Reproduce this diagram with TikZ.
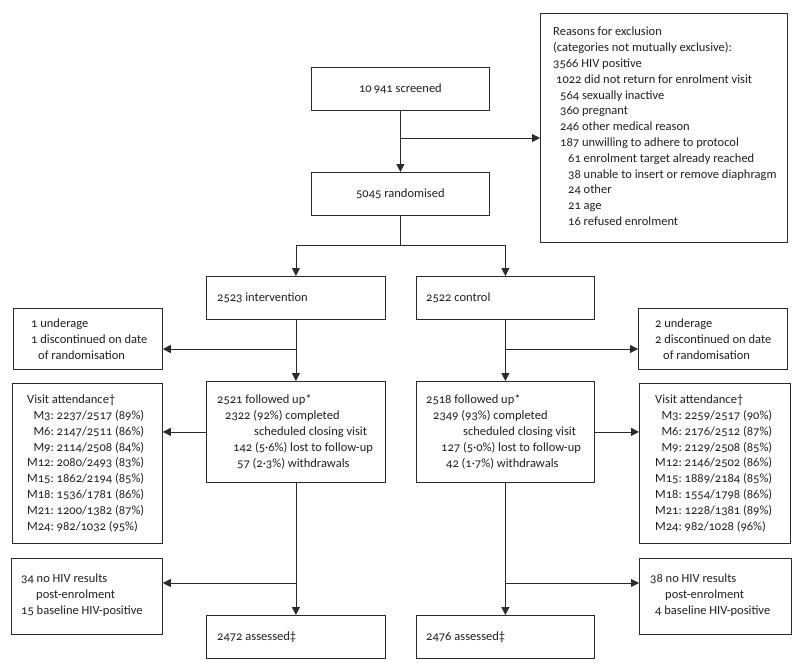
\documentclass[tikz,border=0pt]{standalone}
\usepackage{fontspec}
\usepackage{calc}
\setmainfont{Carlito}[Numbers=OldStyle]
\usetikzlibrary{arrows.meta}
\definecolor{lc}{HTML}{2B2B2B}
\definecolor{tc}{HTML}{1F1F1F}
\newcommand\mlab[1]{\makebox[\widthof{M12:}][r]{#1}\ }
\begin{document}
\begin{tikzpicture}[x=1pt,y=-1pt,
  bx/.style={draw=lc, line width=0.8pt, anchor=north west, inner sep=0pt},
  txt/.style={anchor=west, inner sep=0pt, align=left, text=tc,
    font=\fontsize{12.5}{15.8}\selectfont},
  ctxt/.style={txt, anchor=center, align=center},
  arr/.style={draw=lc, line width=0.8pt, -{Triangle[length=8pt,width=8pt]}},
  ln/.style={draw=lc, line width=0.8pt}]
\useasboundingbox (0,0) rectangle (800,667);
% ---------- boxes ----------
\node[bx, minimum width=178pt, minimum height=43pt] (scr) at (311,67) {};
\node[bx, minimum width=178pt, minimum height=43pt] (rnd) at (311,172) {};
\node[bx, minimum width=247pt, minimum height=229pt] (exc) at (540,13) {};
\node[bx, minimum width=179pt, minimum height=43pt] (int) at (206,276) {};
\node[bx, minimum width=178pt, minimum height=43pt] (ctl) at (416,276) {};
\node[bx, minimum width=149pt, minimum height=61pt] (undL) at (13,308) {};
\node[bx, minimum width=149pt, minimum height=61pt] (undR) at (638,308) {};
\node[bx, minimum width=179pt, minimum height=101pt] (fuL) at (206,381) {};
\node[bx, minimum width=178pt, minimum height=101pt] (fuR) at (416,381) {};
\node[bx, minimum width=150pt, minimum height=160pt] (visL) at (12,383) {};
\node[bx, minimum width=151pt, minimum height=160pt] (visR) at (639,383) {};
\node[bx, minimum width=151pt, minimum height=76pt] (hivL) at (11,558) {};
\node[bx, minimum width=152pt, minimum height=76pt] (hivR) at (639,558) {};
\node[bx, minimum width=179pt, minimum height=43pt] (asL) at (206,615) {};
\node[bx, minimum width=178pt, minimum height=43pt] (asR) at (416,615) {};
% ---------- texts ----------
\node[ctxt] (scrt) at (scr.center) {10\,941 screened};
\node[ctxt] (rndt) at (rnd.center) {5045 randomised};
\node[txt] (exct) at ([xshift=13pt,yshift=1.5pt]exc.west) {Reasons for exclusion\\
(categories not mutually exclusive):\\
3566 HIV positive\\
\hspace*{3pt}1022 did not return for enrolment visit\\
\hspace*{7pt}564 sexually inactive\\
\hspace*{7pt}360 pregnant\\
\hspace*{7pt}246 other medical reason\\
\hspace*{7pt}187 unwilling to adhere to protocol\\
\hspace*{15pt}61 enrolment target already reached\\
\hspace*{15pt}38 unable to insert or remove diaphragm\\
\hspace*{15pt}24 other\\
\hspace*{15pt}21 age\\
\hspace*{15pt}16 refused enrolment};
\node[txt] (intt) at ([xshift=11pt]int.west) {2523 intervention};
\node[txt] (ctlt) at ([xshift=10pt]ctl.west) {2522 control};
\node[txt] (undLt) at ([xshift=18pt]undL.west) {1 underage\\
1 discontinued on date\\
\hspace*{7pt}of randomisation};
\node[txt] (undRt) at ([xshift=17pt]undR.west) {2 underage\\
2 discontinued on date\\
\hspace*{8pt}of randomisation};
\node[txt] (fuLt) at ([xshift=11pt]fuL.west) {2521 followed up*\\
\hspace*{8pt}2322 (92\%) completed\\
\hspace*{37pt}scheduled closing visit\\
\hspace*{16pt}142 (5·6\%) lost to follow-up\\
\hspace*{20pt}57 (2·3\%) withdrawals};
\node[txt] (fuRt) at ([xshift=10pt]fuR.west) {2518 followed up*\\
\hspace*{7pt}2349 (93\%) completed\\
\hspace*{37pt}scheduled closing visit\\
\hspace*{15pt}127 (5·0\%) lost to follow-up\\
\hspace*{20pt}42 (1·7\%) withdrawals};
\node[txt] (visLt) at ([xshift=15pt]visL.west) {Visit attendance†\\
\mlab{M3:}2237/2517 (89\%)\\
\mlab{M6:}2147/2511 (86\%)\\
\mlab{M9:}2114/2508 (84\%)\\
\mlab{M12:}2080/2493 (83\%)\\
\mlab{M15:}1862/2194 (85\%)\\
\mlab{M18:}1536/1781 (86\%)\\
\mlab{M21:}1200/1382 (87\%)\\
\mlab{M24:}982/1032 (95\%)};
\node[txt] (visRt) at ([xshift=16pt]visR.west) {Visit attendance†\\
\mlab{M3:}2259/2517 (90\%)\\
\mlab{M6:}2176/2512 (87\%)\\
\mlab{M9:}2129/2508 (85\%)\\
\mlab{M12:}2146/2502 (86\%)\\
\mlab{M15:}1889/2184 (85\%)\\
\mlab{M18:}1554/1798 (86\%)\\
\mlab{M21:}1228/1381 (89\%)\\
\mlab{M24:}982/1028 (96\%)};
\node[txt] (hivLt) at ([xshift=10pt,yshift=1pt]hivL.west) {34 no HIV results\\
\hspace*{15pt}post-enrolment\\
15 baseline HIV-positive};
\node[txt] (hivRt) at ([xshift=11pt,yshift=1pt]hivR.west) {38 no HIV results\\
\hspace*{15pt}post-enrolment\\
\hspace*{5pt}4 baseline HIV-positive};
\node[txt] (asLt) at ([xshift=11pt]asL.west) {2472 assessed‡};
\node[txt] (asRt) at ([xshift=10pt]asR.west) {2476 assessed‡};
% ---------- connectors ----------
\draw[arr] (scr.south) -- (rnd.north);
\coordinate (bx1) at (scr.south |- 0,138);
\draw[arr] (bx1) -- (bx1 -| exc.west);
\coordinate (sp) at (rnd.south |- 0,245);
\draw[ln] (rnd.south) -- (sp);
\draw[arr] (sp) -| (int.north);
\draw[arr] (sp) -| (ctl.north);
% intervention arm
\draw[arr] (int.south) -- (fuL.north);
\coordinate (bL1) at (int.south |- 0,349);
\draw[arr] (bL1) -- (bL1 -| undL.east);
\draw[arr] (fuL.west) -- (fuL.west -| visL.east);
\draw[arr] (fuL.south) -- (asL.north);
\coordinate (bL2) at (fuL.south |- 0,583);
\draw[arr] (bL2) -- (bL2 -| hivL.east);
% control arm
\draw[arr] (ctl.south) -- (fuR.north);
\coordinate (bR1) at (ctl.south |- 0,349);
\draw[arr] (bR1) -- (bR1 -| undR.west);
\draw[arr] (fuR.east) -- (fuR.east -| visR.west);
\draw[arr] (fuR.south) -- (asR.north);
\coordinate (bR2) at (fuR.south |- 0,583);
\draw[arr] (bR2) -- (bR2 -| hivR.west);
\end{tikzpicture}
\end{document}
